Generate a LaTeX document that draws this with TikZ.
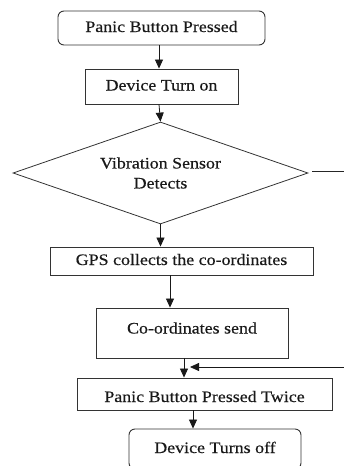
\documentclass[tikz,border=0pt]{standalone}
\usepackage{fontspec}
\setmainfont[FakeStretch=1.12,FakeBold=0.4]{Liberation Serif}
\usetikzlibrary{shapes.geometric,arrows.meta}
\begin{document}
\begin{tikzpicture}[x=1pt,y=-1pt,
  every node/.style={font=\fontsize{16}{20}\selectfont, text=black!90, inner sep=0pt, text height=11pt, text depth=3pt},
  box/.style={draw=black!80, line width=0.9pt, rectangle},
  rbox/.style={box, rounded corners=6pt},
  dia/.style={draw=black!80, line width=0.8pt, diamond, aspect=2.9, align=center, text height=, text depth=},
  arr/.style={draw=black!90, line width=0.8pt, -{Triangle[width=8pt,length=9pt]}},
  ln/.style={draw=black!85, line width=0.8pt}]
\useasboundingbox (0,0) rectangle (344,466);

\node[rbox, minimum width=207pt, minimum height=34pt] (b1) at (161.5,28) {Panic Button Pressed};
\node[box, minimum width=153pt, minimum height=35pt] (b2) at (161.5,86.5) {Device Turn on};
\node[dia, minimum width=295pt, minimum height=102pt] (d) at (160.5,173) {Vibration Sensor\\Detects};
\node[box, minimum width=263pt, minimum height=28pt] (gps) at (181.5,261) {GPS collects the co-ordinates};
\node[box, minimum width=192pt, minimum height=50pt, text depth=10pt] (co) at (192,333) {Co-ordinates send};
\node[box, minimum width=255pt, minimum height=32pt, text height=19pt] (tw) at (204.5,394) {Panic Button Pressed Twice};
\node[rbox, minimum width=172pt, minimum height=40pt] (off) at (215,449) {Device Turns off};

\coordinate (dr) at (344,171);
\coordinate (fbs) at (344,367);
\coordinate (fbe) at (190,367);

\draw[arr] ([xshift=-2.5pt]b1.south) -- ([xshift=-2.5pt]b2.north);
\draw[arr] ([xshift=-2.5pt]b2.south) -- (d.north);
\draw[arr] (d.south) -- (d.south |- gps.north);
\draw[arr] ([xshift=-11.5pt]gps.south) -- ([xshift=-11.5pt]gps.south |- co.north);
\draw[arr] ([xshift=-8pt]co.south) -- ([xshift=-8pt]co.south |- tw.north);
\draw[arr] ([xshift=-11.5pt]tw.south) -- ([xshift=-11.5pt]tw.south |- off.north);
\draw[ln] (d.east) ++(4,-2) -- (dr);
\draw[arr] (fbs) -- (fbe);
\end{tikzpicture}
\end{document}
